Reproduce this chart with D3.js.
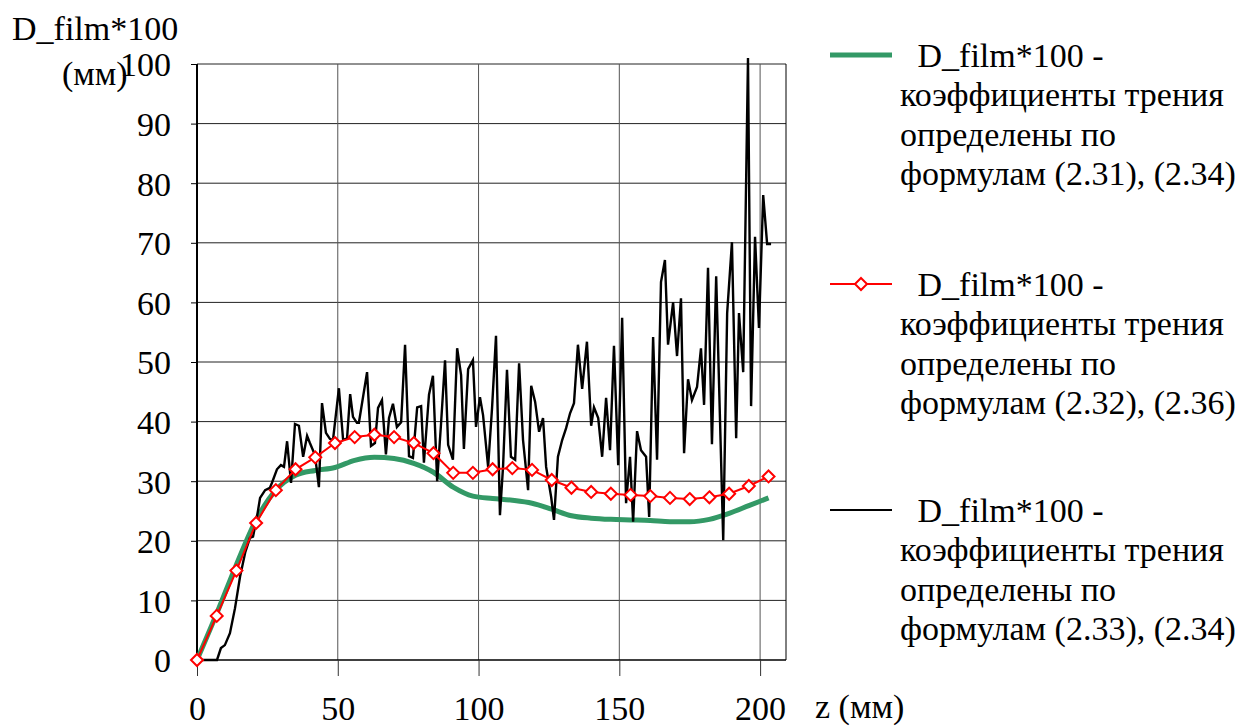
<!DOCTYPE html>
<html><head><meta charset="utf-8">
<script src="https://cdn.jsdelivr.net/npm/d3@7"></script>
<style>body{margin:0;background:#fff}svg{display:block}</style>
</head><body><svg id="c" width="1245" height="728"></svg>
<script>
const zSmooth = [0,7,14,21,28,35,42,49,56,63,70,77,84,91,98,105,112,119,126,133,140,147,154,161,168,175,182,189,196,203];
const greenVals = [0,7.8,16,23.5,28.5,31,31.8,32.3,33.5,34,33.8,33,31.5,29,27.5,27.1,26.8,26.3,25.3,24.2,23.8,23.6,23.5,23.4,23.2,23.2,23.6,24.6,25.9,27.2];
const redVals = [0,7.4,15,23,28.5,32,34,36.4,37.4,37.8,37.4,36.4,34.7,31.4,31.4,32,32.2,31.9,30.2,28.9,28.2,27.9,27.7,27.5,27.2,27,27.3,27.9,29.2,30.8];
const zBlack = [0,7.1,8.5,9.9,11.7,13.5,15.3,17.1,18.8,19.9,21.3,22.4,24.2,25.9,26.6,28.4,29.8,30.9,32,33.4,34.8,36.2,37.7,39.1,40.1,41.9,43.3,44.4,45.8,47.2,48.3,50.4,51.9,53.3,54.4,55.4,56.8,57.5,60.4,61.8,63.2,64.3,65.7,67.1,68.2,69.6,71,72.5,73.9,75.3,76.7,78.2,79.6,80.6,82.4,83.8,85.3,86.7,88.1,89.2,90.9,92.4,93.8,94.8,96.3,98,99.1,100.5,101.6,103.4,104.8,106.2,107.6,108.7,110.1,111.5,113,114.4,115.8,117.6,118.7,120.1,121.5,122.9,124,125.8,126.8,128.2,129.7,131.1,132.5,133.9,135.3,136.8,138.5,140,141,142.5,143.9,145.3,146.7,148.1,149.6,151,152.4,153.8,154.9,156.3,157.7,159.5,160.6,162,163.4,164.8,166.2,167.3,169.1,170.5,171.9,173,174.4,175.8,177.6,179,180.1,181.5,182.9,184.4,186.9,188.3,190,191.5,192.5,194,195.7,196.8,198.2,199.6,201.1,202.5,203.9];
const blackVals = [0,0,2,2.5,4.5,8.7,14,18,20.5,20.7,24,27.2,28.5,28.9,29.7,32,32.7,32.4,36.7,29.7,39.6,39.3,34.1,37.6,36.4,34.4,29,43.1,38.1,37.1,36.9,45.6,36.9,37.2,44.6,40.8,39.8,39.8,48.3,35.9,36.4,42.3,43.6,34.5,40.6,43,39.1,39.9,52.9,34.2,33.9,42.4,42.6,33.1,44.5,47.7,30,39.8,50.3,36.1,33.6,52.3,47.8,35.4,48.8,50.3,39.1,44.1,41.1,32.4,42.3,54.4,24.3,32.4,48.7,34.1,33.6,49.8,36.9,28.5,46,43.3,38.3,40.6,32.4,27.3,23.5,34.1,36.9,38.9,41.4,43.1,52.9,45.5,53.4,39.3,42.4,40.6,34.1,44,35.2,52.7,32.7,57.4,26.3,34.1,23.2,38.4,35.2,34.1,24,54.2,33.6,63.4,67.1,52.9,60,51,60.7,34.7,47.1,43.6,45.8,52.3,42.8,65.8,36.2,64.4,20.1,58.2,70.1,37.2,58.2,48.3,101,42.6,71,55.7,78,69.8,69.8];
const xTicks = [0,50,100,150,200];
const yTicks = [0,10,20,30,40,50,60,70,80,90,100];
const legendTexts = [
  [" D_film*100 -","коэффициенты трения","определены по","формулам (2.31), (2.34)"],
  [" D_film*100 -","коэффициенты трения","определены по","формулам (2.32), (2.36)"],
  [" D_film*100 -","коэффициенты трения","определены по","формулам (2.33), (2.34)"]
];
const GREEN = "#339966", RED = "#ff0000";
const FONT = "'Liberation Serif', Tinos, 'Times New Roman', Times, 'Nimbus Roman', 'DejaVu Serif', serif";

const svg = d3.select("#c");
const L = 197, R = 786, T = 64, B = 660;
const x = d3.scaleLinear().domain([0, 209.2]).range([L, R]);
const y = d3.scaleLinear().domain([0, 100]).range([B, T]);
const FS = 34;

// grid
svg.append("g").selectAll("line").data(yTicks.filter(d=>d>0)).join("line")
  .attr("x1", L).attr("x2", R).attr("y1", d=>y(d)).attr("y2", d=>y(d))
  .attr("stroke", "#222").attr("stroke-width", 1);
svg.append("g").selectAll("line").data(xTicks.filter(d=>d>0)).join("line")
  .attr("x1", d=>x(d)).attr("x2", d=>x(d)).attr("y1", T).attr("y2", B)
  .attr("stroke", "#555").attr("stroke-width", 1);
svg.append("line").attr("x1", R).attr("x2", R).attr("y1", T).attr("y2", B).attr("stroke", "#000").attr("stroke-width", 1);

// axes
const ya = svg.append("g").attr("transform", `translate(${L},0)`)
  .call(d3.axisLeft(y).tickValues(yTicks).tickSize(6).tickPadding(20).tickFormat(d3.format("d")));
ya.attr("font-family", FONT);
ya.select(".domain").attr("stroke-width", 2).attr("d", `M0,${B}V${T}`);
ya.selectAll("text").style("font-size", FS + "px").style("font-family", FONT).attr("dy", "0.35em");
const xa = svg.append("g").attr("transform", `translate(0,${B})`)
  .call(d3.axisBottom(x).tickValues(xTicks).tickSize(16).tickPadding(20).tickFormat(d3.format("d")));
xa.attr("font-family", FONT);
xa.select(".domain").attr("stroke-width", 1.5).attr("d", `M${L},0H${R}`);
xa.selectAll("text").style("font-size", FS + "px").style("font-family", FONT).attr("dy", "0.71em");
svg.selectAll(".tick line").attr("stroke", "#000");
xa.selectAll(".tick line").attr("stroke", "#333");

function txt(g, xx, yy, s) {
  return g.append("text").attr("x", xx).attr("y", yy).style("font-size", FS + "px")
    .style("font-family", FONT).style("white-space", "pre").attr("fill", "#000").text(s);
}
// titles
txt(svg, 12, 40, "D_film*100");
txt(svg, 62, 85, "(мм)");
txt(svg, 815, 718, "z (мм)");

// series
const line = d3.line().x(d=>x(d[0])).y(d=>y(d[1]));
const gData = zSmooth.map((z,i)=>[z, greenVals[i]]);
const rData = zSmooth.map((z,i)=>[z, redVals[i]]);
const bData = zBlack.map((z,i)=>[z, blackVals[i]]);
svg.append("path").datum(gData).attr("d", d3.line().curve(d3.curveMonotoneX).x(d=>x(d[0])).y(d=>y(d[1])))
  .attr("fill","none").attr("stroke", GREEN).attr("stroke-width", 5);
svg.append("path").datum(bData).attr("d", line).attr("fill","none").attr("stroke","#000").attr("stroke-width", 2.4).attr("stroke-linejoin","miter");
svg.append("path").datum(rData).attr("d", line).attr("fill","none").attr("stroke", RED).attr("stroke-width", 2);
const diamond = s => `M0,${-s}L${s},0L0,${s}L${-s},0Z`;
svg.append("g").selectAll("path").data(rData).join("path")
  .attr("transform", d=>`translate(${x(d[0])},${y(d[1])})`)
  .attr("d", diamond(6)).attr("fill","#fff").attr("stroke", RED).attr("stroke-width", 2);

// legend
const legY = [55, 284, 510];
const lg = svg.append("g");
lg.append("line").attr("x1",830).attr("x2",892).attr("y1",legY[0]).attr("y2",legY[0]).attr("stroke",GREEN).attr("stroke-width",5);
lg.append("line").attr("x1",830).attr("x2",892).attr("y1",legY[1]).attr("y2",legY[1]).attr("stroke",RED).attr("stroke-width",2);
lg.append("path").attr("transform",`translate(861,${legY[1]})`).attr("d", diamond(6)).attr("fill","#fff").attr("stroke",RED).attr("stroke-width",2);
lg.append("line").attr("x1",830).attr("x2",892).attr("y1",legY[2]).attr("y2",legY[2]).attr("stroke","#000").attr("stroke-width",2);
legendTexts.forEach((lines, k) => {
  lines.forEach((t, j) => {
    txt(lg, j === 0 ? 909 : 900, legY[k] + j*39.5, t).attr("dy","0.35em");
  });
});
</script></body></html>
